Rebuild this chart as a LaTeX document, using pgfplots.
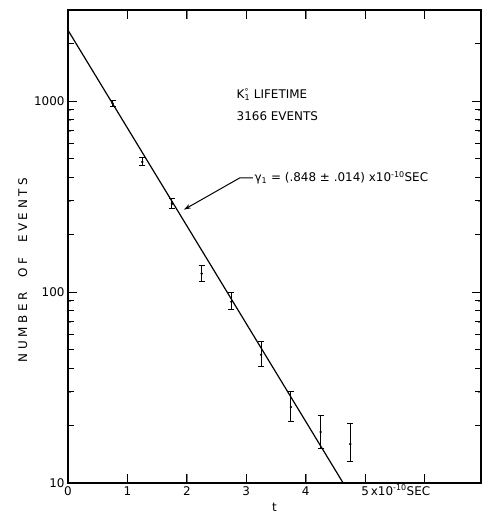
\documentclass[border=0pt]{standalone}
\usepackage{fontspec}
\setmainfont{DejaVu Sans}
\usepackage{pgfplots}
\usepackage{pgfplotstable}
\pgfplotsset{compat=1.18}
\usetikzlibrary{arrows.meta}

% K1 decay times: t (1e-10 s), count, error up, error down
\pgfplotstableread{
t    n    ep   em
0.75 975  35   35
1.25 480  24   22
1.75 290  18   17
2.25 125  13   12
2.75 89   10   8.4
3.25 47   7.8  6.4
3.75 25   5    4
4.25 18.5 4.1  3.3
4.75 16   4.6  3.1
}\events

\begin{document}
\begin{tikzpicture}
\begin{axis}[
  scale only axis,
  width=413bp, height=473bp,
  ymode=log,
  xmin=0, xmax=6.95,
  ymin=10, ymax=3000,
  xtick={0,1,2,3,4,5,6},
  xticklabels={0,1,2,3,4,{5\rlap{\,x10\textsuperscript{-10}SEC}}},
  ytick={10,100,1000},
  yticklabels={10,100,1000},
  major tick length=9bp,
  axis line style={line width=1.1pt},
  tick label style={font=\fontsize{12}{14}\selectfont},
  xticklabel style={text height=1.6ex, text depth=0.2ex},
  label style={font=\fontsize{12}{14}\selectfont},
  xlabel={t},
  ylabel={\addfontfeature{LetterSpace=30}NUMBER\ \ OF\ \ EVENTS},
  ylabel style={at={(ticklabel cs:0.45)}},
]
\addplot[black, line width=1.2pt] coordinates {(0,2350) (4.63,10)};
\addplot[black, only marks, mark=*, mark size=1pt,
  error bars/.cd, y dir=both, y explicit,
  error bar style={line width=1pt},
  error mark options={rotate=90, mark size=3bp, line width=1pt}]
  table[x=t, y=n, y error plus=ep, y error minus=em] {\events};

% tick marks on all four sides
\pgfplotsinvokeforeach{1,2,3,4,5,6}{
  \draw[line width=1pt] (axis cs:#1,10) -- ++(0bp,9bp);
  \draw[line width=1pt] (axis cs:#1,3000) -- ++(0bp,-9bp);
}
\pgfplotsinvokeforeach{100,1000}{
  \draw[line width=1pt] (axis cs:0,#1) -- ++(9bp,0bp);
  \draw[line width=1pt] (axis cs:6.95,#1) -- ++(-9bp,0bp);
}
\pgfplotsinvokeforeach{20,30,40,50,60,70,80,90,200,300,400,500,600,700,800,900,2000}{
  \draw[line width=1pt] (axis cs:0,#1) -- ++(6bp,0bp);
  \draw[line width=1pt] (axis cs:6.95,#1) -- ++(-6bp,0bp);
}

\node[anchor=west, font=\fontsize{12}{14}\selectfont] at (axis cs:2.78,1088)
  {K\rlap{\textsuperscript{°}}\textsubscript{1} LIFETIME};
\node[anchor=west, font=\fontsize{12}{14}\selectfont] at (axis cs:2.78,835)
  {3166 EVENTS};
\draw[line width=1pt, -{Stealth[length=7bp,width=4.5bp]}]
  (axis cs:3.11,396) -- (axis cs:2.89,396) -- (axis cs:1.95,270);
\node[anchor=west, inner sep=1bp, font=\fontsize{12}{14}\selectfont] at (axis cs:3.12,396)
  {γ\textsubscript{1} = (.848 ± .014) x10\textsuperscript{-10}SEC};
\end{axis}
\pgfresetboundingbox
\path[use as bounding box] (-68bp,-38bp) rectangle (416bp,483bp);
\end{tikzpicture}
\end{document}
